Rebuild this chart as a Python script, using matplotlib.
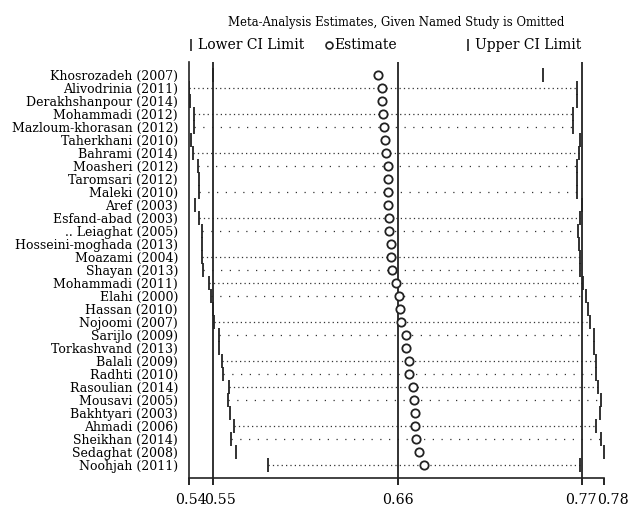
import numpy as np
import matplotlib.pyplot as plt
from matplotlib.transforms import ScaledTranslation

plt.rcParams['font.family'] = ['DejaVu Serif']

# studeii omise, de sus in jos
studii = ['Khosrozadeh (2007)', 'Alivodrinia (2011)', 'Derakhshanpour (2014)',
          'Mohammadi (2012)', 'Mazloum-khorasan (2012)', 'Taherkhani (2010)',
          'Bahrami (2014)', 'Moasheri (2012)', 'Taromsari (2012)', 'Maleki (2010)',
          'Aref (2003)', 'Esfand-abad (2003)', '.. Leiaghat (2005)',
          'Hosseini-moghada (2013)', 'Moazami (2004)', 'Shayan (2013)',
          'Mohammadi (2011)', 'Elahi (2000)', 'Hassan (2010)', 'Nojoomi (2007)',
          'Sarijlo (2009)', 'Torkashvand (2013)', 'Balali (2009)', 'Radhti (2010)',
          'Rasoulian (2014)', 'Mousavi (2005)', 'Bakhtyari (2003)', 'Ahmadi (2006)',
          'Sheikhan (2014)', 'Sedaghat (2008)', 'Noohjah (2011)']

estimat = [0.6497, 0.6519, 0.6524, 0.6527, 0.6533, 0.6539, 0.6543, 0.6556,
           0.6557, 0.6558, 0.6558, 0.6563, 0.6565, 0.6573, 0.6577, 0.6579,
           0.6603, 0.6623, 0.6629, 0.6637, 0.6663, 0.6665, 0.6681, 0.6685,
           0.6709, 0.6715, 0.6717, 0.6721, 0.6723, 0.6742, 0.6770]

ci_inf = [0.5512, 0.5369, 0.5372, 0.5397, 0.5400, 0.5378, 0.5391, 0.5420,
          0.5426, 0.5426, 0.5406, 0.5426, 0.5445, 0.5449, 0.5445, 0.5454,
          0.5487, 0.5503, 0.5511, 0.5521, 0.5551, 0.5551, 0.5567, 0.5571,
          0.5607, 0.5603, 0.5611, 0.5639, 0.5619, 0.5647, 0.5842]

ci_sup = [0.7486, 0.7685, 0.7685, 0.7665, 0.7665, 0.7707, 0.7697, 0.7689,
          0.7689, 0.7689, 0.7717, 0.7703, 0.7695, 0.7701, 0.7703, 0.7707,
          0.7725, 0.7743, 0.7753, 0.7767, 0.7788, 0.7791, 0.7800, 0.7803,
          0.7811, 0.7828, 0.7822, 0.7803, 0.7833, 0.7848, 0.7703]

# estimarea globala si intervalul ei
glob_inf, glob_est, glob_sup = 0.5515, 0.6615, 0.7715

# tipul liniei punctate pe fiecare rand: 'd' dens, 's' rar, '' deloc
punctat = ['', 'd', '', 'd', 's', '', 'd', 's', '', 's', '', 'd', 's', '', 'd', 's',
           'd', 's', '', 'd', 's', '', 'd', 's', 'd', 's', '', 'd', 's', '', 'd']
stil_punct = {'d': (0, (1, 2.5)), 's': (0, (1, 6))}

n = len(studii)
y = np.arange(n)

fig = plt.figure(figsize=(6.3, 5.21), dpi=100)
ax = fig.add_axes([0.3, 0.0825, 0.6587, 0.7985])

for i in range(n):
    if punctat[i]:
        ax.plot([ci_inf[i], ci_sup[i]], [y[i], y[i]], color='#333333', lw=0.9,
                linestyle=stil_punct[punctat[i]])

for v in (glob_inf, glob_est, glob_sup):
    ax.axvline(v, color='#222222', lw=1.3)

ax.plot(ci_inf, y, linestyle='none', marker='|', ms=10, mew=1.3, color='#222222')
ax.plot(ci_sup, y, linestyle='none', marker='|', ms=10, mew=1.3, color='#222222')
ax.plot(estimat, y, linestyle='none', marker='o', ms=6, mew=1.3,
        mfc='white', mec='#222222')

xmin, xmax = min(ci_inf), max(ci_sup)
ax.set_xlim(xmin, xmax)
ax.set_ylim(n, -1)
ax.set_yticks(y)
ax.set_yticklabels(studii, fontsize=9.0)
ax.tick_params(axis='y', length=0, pad=8)
ticks = [xmin, glob_inf, glob_est, glob_sup, xmax]
ax.set_xticks(ticks)
ax.set_xticklabels(['%.2f' % t for t in ticks], fontsize=10.2)
ax.tick_params(axis='x', length=5, width=1.2, pad=6)
# etichetele lipite se imping putin, ca in original
for lab, dx in zip(ax.get_xticklabels(), [2, 7, 0, -1, 9]):
    lab.set_transform(lab.get_transform() + ScaledTranslation(dx / 100, 0, fig.dpi_scale_trans))
ax.spines['top'].set_visible(False)
ax.spines['right'].set_visible(False)
for s in ('left', 'bottom'):
    ax.spines[s].set_linewidth(1.2)
    ax.spines[s].set_color('#222222')

ax.set_title('Meta-Analysis Estimates, Given Named Study is Omitted',
             fontsize=8.4, pad=26)

# legenda pe trei coloane deasupra graficului
leg_y = 1.041
ax.plot([0.004], [leg_y], transform=ax.transAxes, marker='|', ms=9, mew=1.2,
        color='#222222', clip_on=False)
ax.text(0.022, leg_y, 'Lower CI Limit', transform=ax.transAxes, va='center', fontsize=10)
ax.plot([0.337], [leg_y], transform=ax.transAxes, marker='o', ms=5, mew=1.2,
        mfc='white', mec='#222222', clip_on=False)
ax.text(0.35, leg_y, 'Estimate', transform=ax.transAxes, va='center', fontsize=10)
ax.plot([0.672], [leg_y], transform=ax.transAxes, marker='|', ms=9, mew=1.2,
        color='#222222', clip_on=False)
ax.text(0.69, leg_y, 'Upper CI Limit', transform=ax.transAxes, va='center', fontsize=10)

plt.savefig('out.png', dpi=100)
